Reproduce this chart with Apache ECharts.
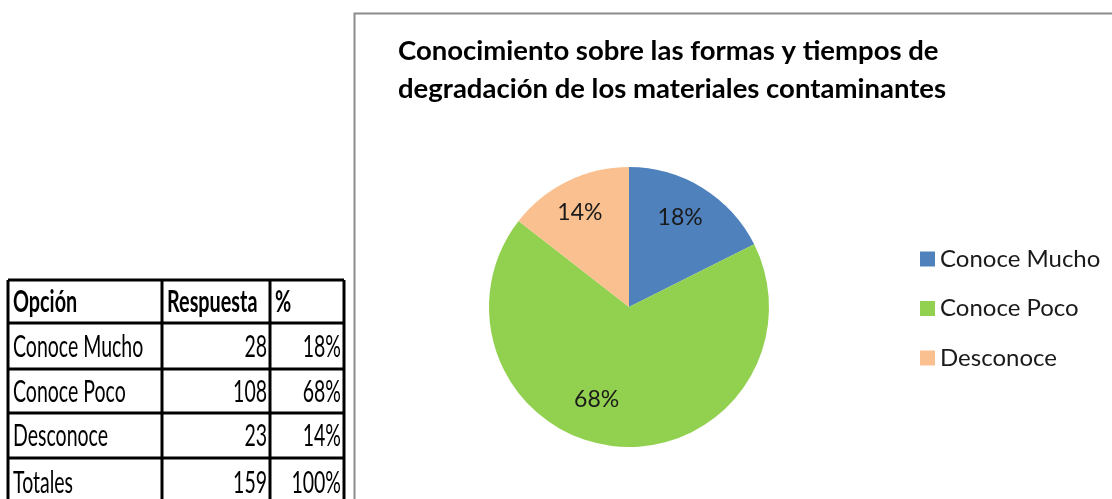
<!DOCTYPE html>
<html>
<head>
<meta charset="utf-8">
<script src="https://cdn.jsdelivr.net/npm/echarts@6/dist/echarts.min.js"></script>
<style>
  html, body { margin: 0; padding: 0; background: #fff; }
  #chart { width: 1112px; height: 499px; }
</style>
</head>
<body>
<div id="chart"></div>
<script>
// data
const categories = ['Conoce Mucho', 'Conoce Poco', 'Desconoce']
const respuestas = [28, 108, 23]
const porcentajes = ['18%', '68%', '14%']
const tableHeader = ['Opción', 'Respuesta', '%']
const totalLabel = 'Totales'
const totalRespuestas = 159
const totalPorcentaje = '100%'
const titleText = 'Conocimiento sobre las formas y tiempos de\ndegradación de los materiales contaminantes'

const colors = ['#4f81bd', '#92d050', '#fac090']
const FONT = 'Lato'

// table grid (Excel cells on the left)
const colX = [8, 162, 270, 344]
const rowY = [280, 323, 369, 413, 458, 506]

const chart = echarts.init(document.getElementById('chart'))

function tableGraphics() {
  const els = []
  const rows = [tableHeader]
  categories.forEach((c, i) => rows.push([c, String(respuestas[i]), porcentajes[i]]))
  rows.push([totalLabel, String(totalRespuestas), totalPorcentaje])

  rows.forEach((r, ri) => {
    const cy = (rowY[ri] + rowY[ri + 1]) / 2 + 1
    r.forEach((txt, ci) => {
      const isHeader = ri === 0
      const rightAlign = !isHeader && ci > 0
      els.push({
        type: 'text',
        x: rightAlign ? colX[ci + 1] - 3 : colX[ci] + 5,
        y: cy,
        scaleX: isHeader ? 0.66 : 0.65,
        style: {
          text: txt,
          font: (isHeader ? 'bold ' : '') + '30px ' + FONT,
          fill: '#000',
          align: rightAlign ? 'right' : 'left',
          verticalAlign: 'middle'
        },
        silent: true
      })
    })
  })
  // horizontal lines
  rowY.forEach((y) => {
    els.push({
      type: 'line',
      shape: { x1: colX[0], y1: y, x2: colX[colX.length - 1], y2: y },
      style: { stroke: '#000', lineWidth: 3 },
      silent: true
    })
  })
  // vertical lines
  colX.forEach((x) => {
    els.push({
      type: 'line',
      shape: { x1: x, y1: rowY[0], x2: x, y2: rowY[rowY.length - 1] },
      style: { stroke: '#000', lineWidth: 3 },
      silent: true
    })
  })
  return els
}

const pieData = categories.map((name, i) => ({ name, value: respuestas[i] }))

chart.setOption({
  animation: false,
  backgroundColor: '#fff',
  color: colors,
  title: {
    text: titleText,
    left: 393,
    top: 27,
    textStyle: { fontFamily: FONT, fontWeight: 'bold', fontSize: 27.5, lineHeight: 38, color: '#000' }
  },
  legend: {
    orient: 'vertical',
    left: 915,
    top: 242,
    icon: 'rect',
    itemWidth: 15,
    itemHeight: 15,
    itemGap: 25.5,
    data: categories,
    textStyle: { fontFamily: FONT, fontSize: 24, lineHeight: 24, color: '#1a1a1a' }
  },
  graphic: [
    {
      type: 'rect',
      shape: { x: 354.5, y: 13.5, width: 900, height: 600 },
      style: { fill: 'none', stroke: '#8c8c8c', lineWidth: 2 },
      silent: true
    },
    ...tableGraphics()
  ],
  series: [
    {
      type: 'pie',
      center: [629, 307],
      radius: 140,
      startAngle: 90,
      clockwise: true,
      label: { show: false },
      labelLine: { show: false },
      emphasis: { disabled: true },
      itemStyle: { borderWidth: 0 },
      data: pieData
    },
    {
      // label carrier: transparent ring so the labels sit at ~0.73 r like in Excel
      type: 'pie',
      center: [629, 307],
      radius: [64, 140],
      startAngle: 90,
      clockwise: true,
      silent: true,
      percentPrecision: 0,
      itemStyle: { color: 'transparent' },
      emphasis: { disabled: true },
      label: {
        show: true,
        position: 'inside',
        formatter: '{d}%',
        fontFamily: FONT,
        fontSize: 23,
        lineHeight: 23,
        color: '#1a1a1a'
      },
      labelLine: { show: false },
      data: pieData.map((d, i) => i === 1
        ? { ...d, label: { formatter: '{d}%\n', padding: [0, 44, 0, 0] } }
        : i === 2 ? { ...d, label: { padding: [0, 6, 0, 0] } }
        : { ...d, label: { padding: [6, 8, 0, 0] } })
    }
  ]
})
</script>
</body>
</html>
